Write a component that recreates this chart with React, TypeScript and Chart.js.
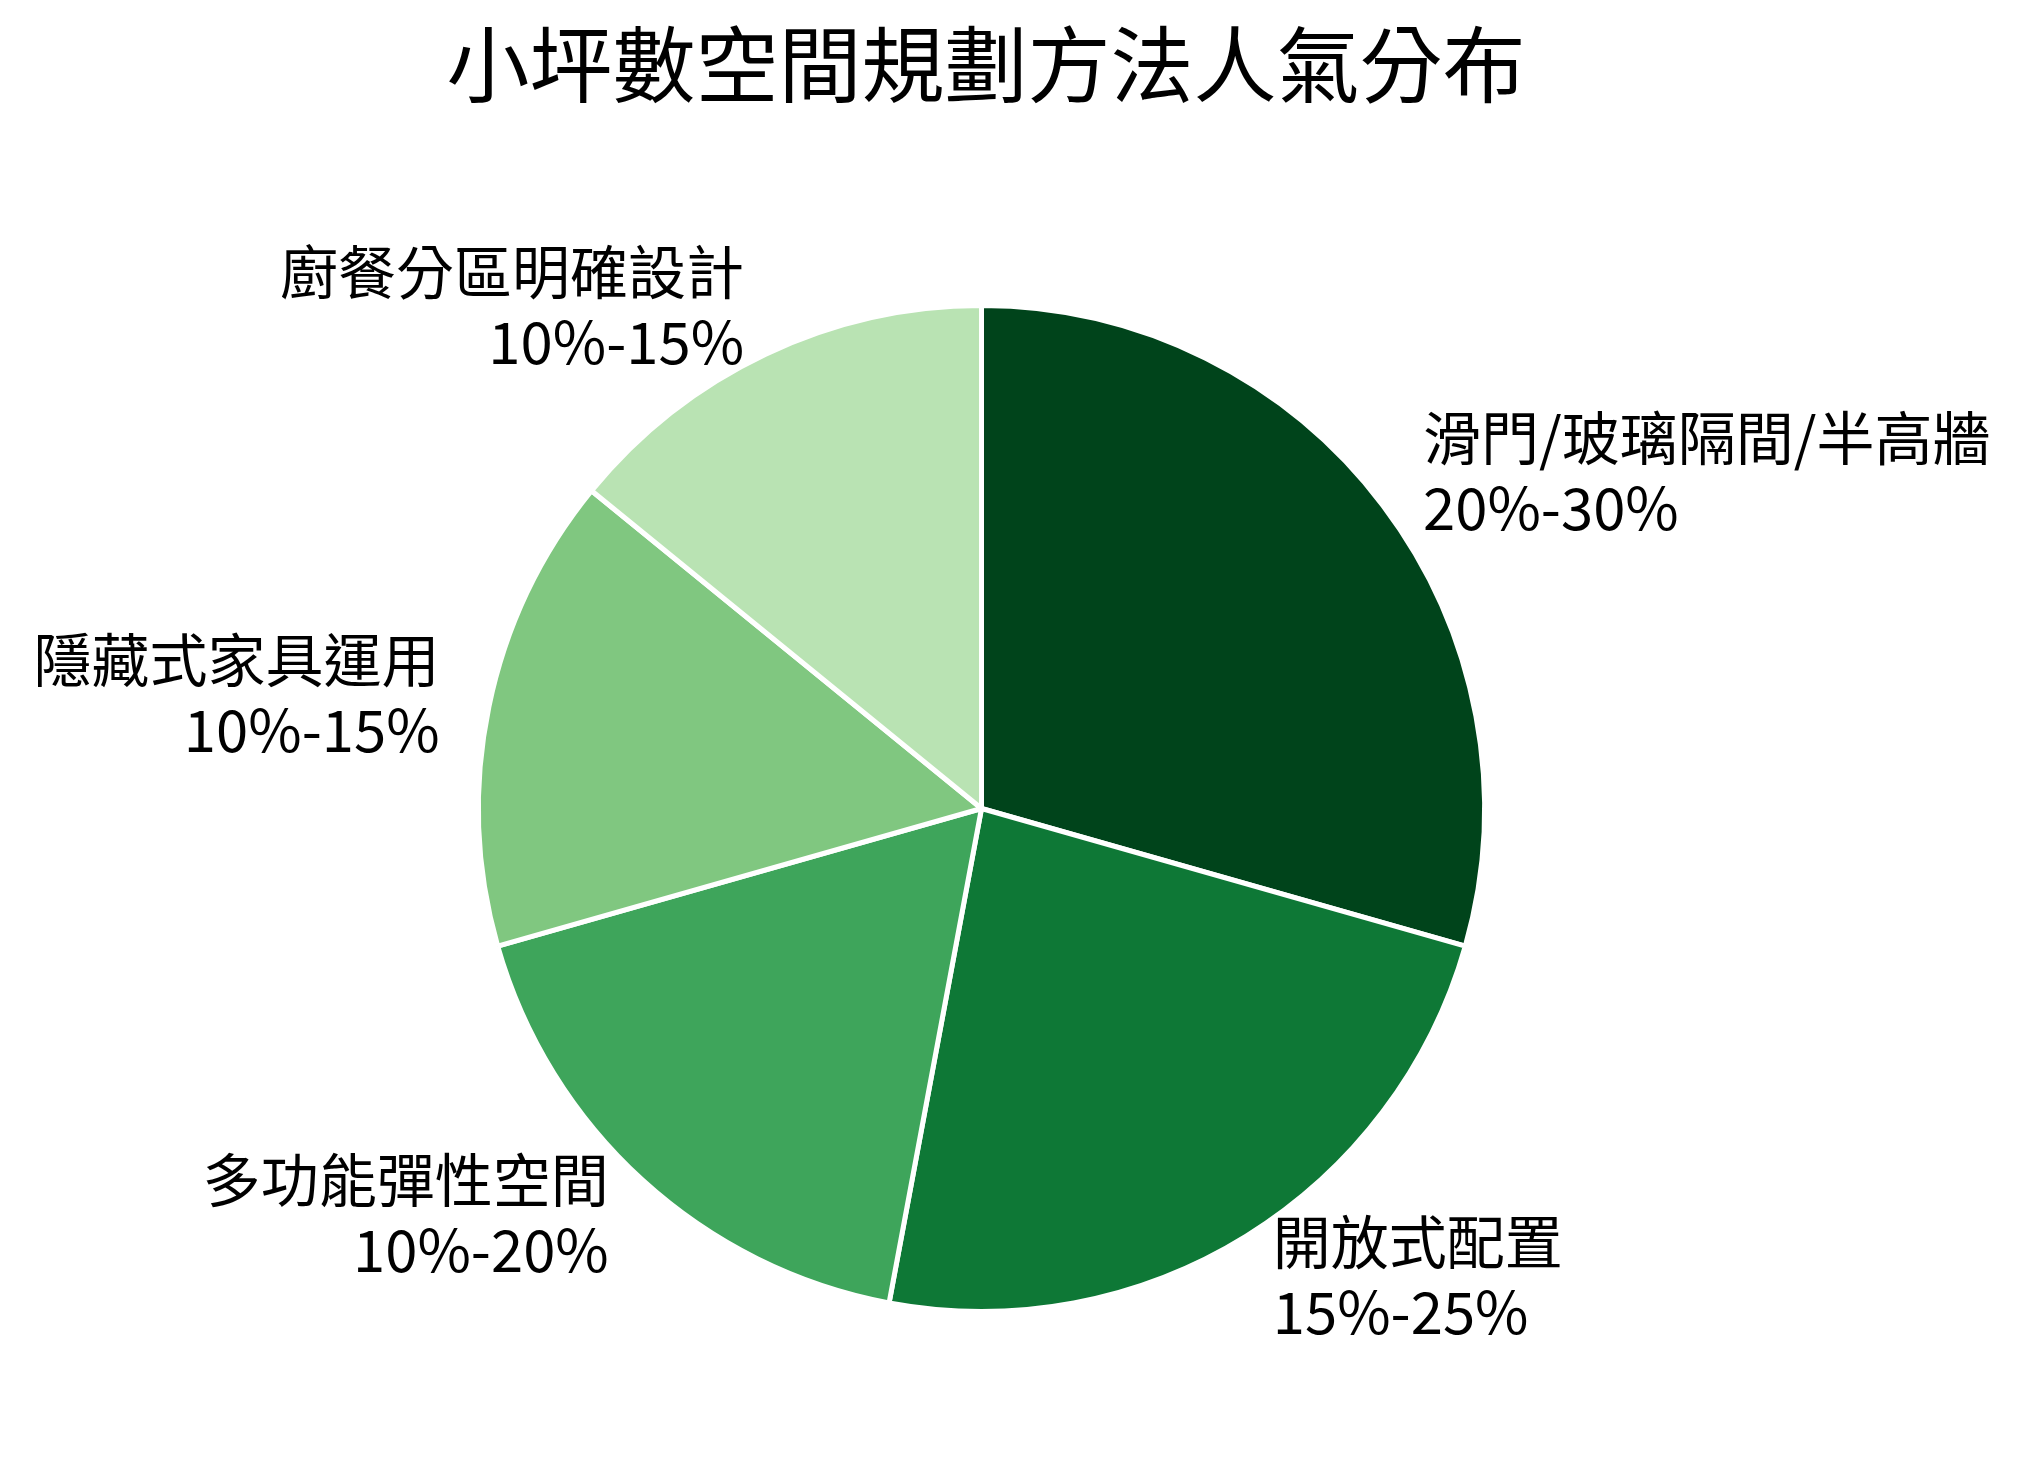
import { useEffect, useRef } from 'react';
import Chart from 'chart.js/auto';

const categories = [
  '滑門/玻璃隔間/半高牆',
  '開放式配置',
  '多功能彈性空間',
  '隱藏式家具運用',
  '廚餐分區明確設計',
];
// slice sizes
const values = [25, 20, 15, 13, 12];
const rangeLabels = ['20%-30%', '15%-25%', '10%-20%', '10%-15%', '10%-15%'];
const colors = ['#00441b', '#0e7836', '#3ea55b', '#80c780', '#b9e3b3'];

const TITLE = '小坪數空間規劃方法人氣分布';
const FONT = '"Noto Sans CJK TC", "Noto Sans CJK SC", "Noto Sans", sans-serif';

const outsideLabels = {
  id: 'outsideLabels',
  afterDraw(chart: Chart) {
    const ctx = chart.ctx;
    const meta = chart.getDatasetMeta(0);
    ctx.save();
    ctx.fillStyle = '#000';

    // title
    ctx.font = `83px ${FONT}`;
    ctx.textAlign = 'center';
    ctx.textBaseline = 'middle';
    ctx.fillText(TITLE, 986, 64);

    ctx.font = `58px ${FONT}`;
    meta.data.forEach((el: any, i: number) => {
      const { x, y, startAngle, endAngle, outerRadius } = el.getProps(
        ['x', 'y', 'startAngle', 'endAngle', 'outerRadius'],
        true
      );
      const mid = (startAngle + endAngle) / 2;
      const r = outerRadius * 1.1;
      const lx = x + r * Math.cos(mid);
      const ly = y + r * Math.sin(mid);
      ctx.textAlign = Math.cos(mid) >= 0 ? 'left' : 'right';
      ctx.fillText(categories[i], lx, ly - 37);
      ctx.fillText(rangeLabels[i], lx, ly + 33);
    });
    ctx.restore();
  },
};

const PieChart = () => {
  const chartRef = useRef<HTMLCanvasElement>(null);
  const chartInstance = useRef<Chart | null>(null);

  useEffect(() => {
    document.body.style.margin = '0';
    if (!chartRef.current) return;
    if (chartInstance.current) chartInstance.current.destroy();

    chartInstance.current = new Chart(chartRef.current, {
      type: 'pie',
      data: {
        labels: categories,
        datasets: [
          {
            data: values,
            backgroundColor: colors,
            borderColor: '#ffffff',
            borderWidth: 5,
          },
        ],
      },
      options: {
        responsive: true,
        maintainAspectRatio: false,
        devicePixelRatio: 1,
        animation: false,
        layout: {
          padding: { left: 476, top: 303, right: 536, bottom: 154 },
        },
        plugins: {
          legend: { display: false },
          title: { display: false },
          tooltip: { enabled: false },
        },
      },
      plugins: [outsideLabels],
    });

    return () => {
      if (chartInstance.current) {
        chartInstance.current.destroy();
        chartInstance.current = null;
      }
    };
  }, []);

  return (
    <div style={{ width: 2023, height: 1468, background: '#fff' }}>
      <canvas ref={chartRef} />
    </div>
  );
};

export default function App() {
  return <PieChart />;
}
